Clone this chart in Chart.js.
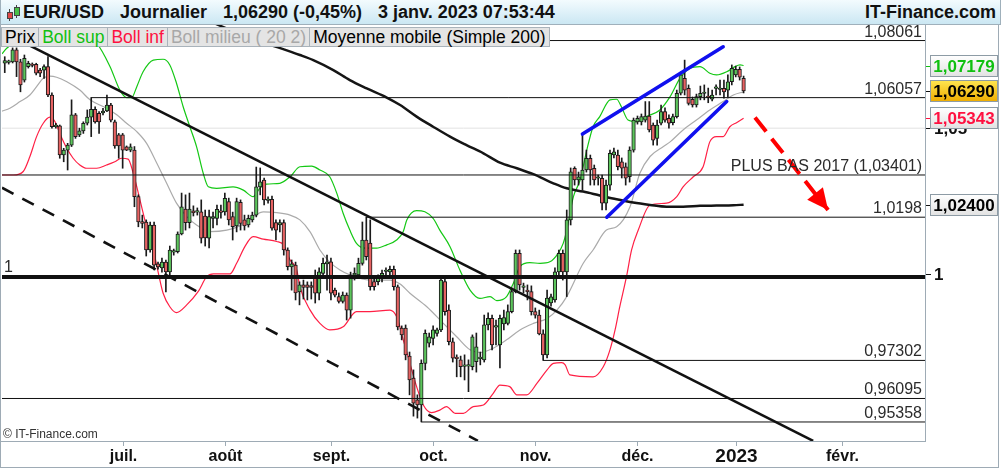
<!DOCTYPE html>
<html><head><meta charset="utf-8">
<script src="https://cdn.jsdelivr.net/npm/chart.js@4.4.1/dist/chart.umd.min.js"></script>
<style>
html,body{margin:0;padding:0;background:#fff;}
#wrap{position:relative;width:1001px;height:469px;overflow:hidden;font-family:"Liberation Sans",Arial,sans-serif;background:#fff;}
#c{position:absolute;left:0;top:0;}
#hdr{position:absolute;left:0;top:0;width:1001px;height:25px;background:linear-gradient(#f3fbfe,#cbe7f3);border-bottom:1px solid #9fb0bb;border-left:1px solid #9fb0bb;border-right:1px solid #9fb0bb;box-sizing:border-box;}
.ht{position:absolute;top:0;line-height:25px;font-weight:bold;font-size:18px;color:#111;white-space:nowrap;}
.ico{position:absolute;left:5px;top:5px;width:16px;height:16px;}
.ico .w{position:absolute;width:1px;background:#444;}
.ico .b{position:absolute;width:4px;border:1px solid #444;}
#leg{position:absolute;left:1px;top:27px;height:20px;display:flex;background:#e4e4e4;border:1px solid #a9b3bb;box-sizing:border-box;}
#leg span{display:block;padding:0 3px;line-height:19px;font-size:17.5px;border-right:1px solid #a9b3bb;white-space:nowrap;}
#leg span:last-child{border-right:none;}
</style></head>
<body><div id="wrap">
<canvas id="c" width="1001" height="469"></canvas>
<div id="hdr">
  <div class="ico">
    <div class="w" style="left:3px;top:4px;height:12px"></div><div class="b" style="left:1px;top:7px;height:5px;background:#e04848"></div>
    <div class="w" style="left:10px;top:0;height:13px"></div><div class="b" style="left:8px;top:2px;height:7px;background:#48c048"></div>
  </div>
  <span class="ht" style="left:22px">EUR/USD</span>
  <span class="ht" style="left:119px">Journalier</span>
  <span class="ht" style="left:222px">1,06290 (-0,45%)</span>
  <span class="ht" style="left:377px">3 janv. 2023 07:53:44</span>
  <span class="ht" style="right:4px">IT-Finance.com</span>
</div>
<div id="leg"><span style="color:#000">Prix</span><span style="color:#10c010">Boll sup</span><span style="color:#ff1040">Boll inf</span><span style="color:#a8a8a8">Boll milieu ( 20 2)</span><span style="color:#000">Moyenne mobile (Simple 200)</span></div>
</div>
<script>
// ---- candle data (daily, index 0..188; month ticks below) ----
const candleOpen = [1.0726,1.0729,1.0731,1.0773,1.0731,1.0667,1.0714,1.0723,1.0722,1.0702,
1.0702,1.0714,1.0615,1.0505,1.0508,1.0408,1.0425,1.0442,1.0546,1.0477,
1.0491,1.0517,1.0538,1.0565,1.0551,1.0553,1.0560,1.0580,1.0522,1.0477,
1.0477,1.0436,1.0425,1.0425,1.0267,1.0183,1.0182,1.0089,1.0172,1.0043,
1.0030,1.0049,1.0017,1.0082,1.0083,1.0142,1.0225,1.0180,1.0219,1.0215,
1.0216,1.0202,1.0128,1.0194,1.0194,1.0216,1.0216,1.0250,1.0200,1.0169,
1.0248,1.0189,1.0172,1.0189,1.0205,1.0300,1.0323,1.0254,1.0258,1.0180,
1.0172,1.0180,1.0089,1.0033,1.0039,0.9951,0.9974,0.9974,0.9972,1.0001,
0.9947,1.0012,1.0043,1.0050,0.9957,0.9936,0.9920,0.9941,0.9892,1.0007,
1.0007,1.0045,1.0122,1.0112,0.9985,0.9985,0.9996,1.0018,1.0017,1.0025,
0.9968,0.9834,0.9834,0.9744,0.9674,0.9605,0.9589,0.9721,0.9785,0.9801,
0.9817,0.9828,0.9985,0.9892,0.9790,0.9738,0.9732,0.9711,0.9712,0.9710,
0.9726,0.9736,0.9732,0.9844,0.9865,0.9837,0.9780,0.9847,0.9849,0.9887,
0.9952,1.0078,0.9966,0.9954,0.9952,0.9887,0.9876,0.9815,0.9748,0.9915,
0.9925,1.0017,1.0078,1.0017,1.0189,1.0363,1.0323,1.0323,1.0357,1.0397,
1.0363,1.0329,1.0329,1.0245,1.0306,1.0408,1.0408,1.0385,1.0368,1.0334,
1.0425,1.0522,1.0522,1.0528,1.0542,1.0511,1.0465,1.0517,1.0557,1.0534,
1.0519,1.0540,1.0621,1.0673,1.0638,1.0600,1.0580,1.0609,1.0620,1.0607,
1.0600,1.0638,1.0634,1.0638,1.0632,1.0661,1.0685,1.0705,1.0673];
const candleHigh = [1.0749,1.0737,1.0780,1.0780,1.0740,1.0755,1.0733,1.0727,1.0726,1.0708,
1.0720,1.0749,1.0622,1.0517,1.0511,1.0431,1.0448,1.0598,1.0551,1.0500,
1.0522,1.0563,1.0606,1.0574,1.0557,1.0569,1.0615,1.0586,1.0528,1.0482,
1.0482,1.0439,1.0446,1.0437,1.0273,1.0205,1.0189,1.0182,1.0182,1.0049,
1.0062,1.0056,1.0102,1.0092,1.0149,1.0279,1.0273,1.0279,1.0236,1.0229,
1.0256,1.0222,1.0222,1.0215,1.0239,1.0239,1.0279,1.0262,1.0215,1.0262,
1.0256,1.0205,1.0205,1.0215,1.0367,1.0364,1.0330,1.0266,1.0269,1.0189,
1.0189,1.0189,1.0096,1.0056,1.0049,0.9984,0.9990,0.9984,0.9984,1.0023,
1.0030,1.0062,1.0072,1.0062,0.9964,0.9948,0.9951,0.9948,1.0016,1.0030,
1.0062,1.0182,1.0198,1.0189,0.9997,1.0007,1.0023,1.0030,1.0036,1.0036,
0.9974,0.9841,0.9844,0.9757,0.9700,0.9621,0.9732,0.9828,0.9818,0.9841,
0.9834,1.0001,0.9997,0.9909,0.9802,0.9748,0.9744,0.9748,0.9732,0.9812,
0.9818,0.9757,0.9876,0.9883,0.9876,0.9860,0.9876,0.9892,0.9909,0.9964,
1.0089,1.0089,0.9980,0.9974,0.9971,0.9899,0.9892,0.9828,0.9957,0.9944,
1.0030,1.0089,1.0089,1.0222,1.0364,1.0368,1.0350,1.0480,1.0425,1.0408,
1.0374,1.0340,1.0340,1.0323,1.0425,1.0432,1.0425,1.0398,1.0381,1.0436,
1.0535,1.0542,1.0549,1.0592,1.0592,1.0518,1.0528,1.0580,1.0570,1.0546,
1.0549,1.0632,1.0695,1.0737,1.0650,1.0608,1.0618,1.0646,1.0650,1.0639,
1.0632,1.0650,1.0667,1.0667,1.0685,1.0720,1.0716,1.0713,1.0681];
const candleLow = [1.0693,1.0723,1.0727,1.0679,1.0626,1.0660,1.0709,1.0713,1.0685,1.0679,
1.0673,1.0609,1.0500,1.0500,1.0397,1.0385,1.0357,1.0437,1.0465,1.0471,
1.0482,1.0511,1.0471,1.0517,1.0482,1.0546,1.0557,1.0522,1.0431,1.0397,
1.0363,1.0423,1.0419,1.0233,1.0166,1.0162,1.0069,1.0082,1.0023,1.0026,
1.0016,0.9951,1.0007,1.0072,1.0079,1.0139,1.0155,1.0162,1.0202,1.0205,
1.0112,1.0102,1.0096,1.0162,1.0172,1.0195,1.0205,1.0172,1.0122,1.0149,
1.0155,1.0155,1.0165,1.0182,1.0199,1.0273,1.0239,1.0245,1.0155,1.0122,
1.0149,1.0072,1.0023,0.9957,0.9925,0.9909,0.9928,0.9925,0.9928,0.9915,
0.9925,1.0000,0.9957,0.9925,0.9935,0.9915,0.9915,0.9860,0.9866,0.9990,
1.0000,1.0039,1.0056,0.9957,0.9957,0.9974,0.9984,1.0007,1.0007,0.9957,
0.9828,0.9796,0.9732,0.9621,0.9554,0.9548,0.9536,0.9700,0.9773,0.9780,
0.9808,0.9822,0.9876,0.9780,0.9725,0.9678,0.9678,0.9668,0.9631,0.9700,
0.9693,0.9716,0.9725,0.9828,0.9764,0.9780,0.9706,0.9828,0.9844,0.9883,
0.9948,0.9957,0.9948,0.9925,0.9876,0.9866,0.9812,0.9730,0.9738,0.9905,
0.9918,1.0007,0.9990,0.9936,1.0172,1.0306,1.0306,1.0289,1.0350,1.0306,
1.0306,1.0306,1.0222,1.0222,1.0289,1.0398,1.0357,1.0330,1.0306,1.0316,
1.0418,1.0514,1.0511,1.0521,1.0487,1.0442,1.0442,1.0511,1.0521,1.0500,
1.0511,1.0535,1.0615,1.0615,1.0580,1.0573,1.0573,1.0598,1.0598,1.0588,
1.0594,1.0615,1.0615,1.0604,1.0608,1.0650,1.0678,1.0667,1.0622];
const candleClose = [1.0735,1.0731,1.0773,1.0731,1.0650,1.0743,1.0726,1.0718,1.0691,1.0691,
1.0714,1.0615,1.0505,1.0511,1.0408,1.0425,1.0442,1.0546,1.0471,1.0491,
1.0517,1.0538,1.0565,1.0522,1.0522,1.0559,1.0580,1.0528,1.0439,1.0439,
1.0425,1.0425,1.0436,1.0267,1.0182,1.0177,1.0089,1.0172,1.0039,1.0033,
1.0049,1.0017,1.0089,1.0083,1.0142,1.0233,1.0180,1.0225,1.0213,1.0217,
1.0128,1.0129,1.0200,1.0200,1.0224,1.0214,1.0261,1.0189,1.0166,1.0250,
1.0177,1.0169,1.0194,1.0205,1.0300,1.0317,1.0256,1.0259,1.0161,1.0155,
1.0180,1.0089,1.0034,1.0043,0.9948,0.9974,0.9966,0.9966,0.9966,0.9947,
1.0017,1.0045,1.0050,0.9947,0.9941,0.9920,0.9941,0.9892,1.0007,1.0012,
1.0045,1.0122,1.0067,0.9968,0.9968,0.9996,1.0012,1.0020,1.0025,0.9968,
0.9838,0.9812,0.9748,0.9668,0.9595,0.9589,0.9721,0.9817,0.9806,0.9828,
0.9828,0.9990,0.9887,0.9790,0.9737,0.9736,0.9710,0.9713,0.9714,0.9806,
0.9774,0.9738,0.9844,0.9865,0.9780,0.9839,0.9865,0.9868,0.9887,0.9952,
1.0078,0.9974,0.9967,0.9952,0.9887,0.9876,0.9815,0.9748,0.9931,0.9935,
1.0017,1.0078,1.0017,1.0189,1.0351,1.0323,1.0334,1.0357,1.0397,1.0357,
1.0323,1.0330,1.0245,1.0306,1.0414,1.0419,1.0368,1.0363,1.0329,1.0425,
1.0528,1.0534,1.0540,1.0542,1.0494,1.0459,1.0511,1.0557,1.0528,1.0517,
1.0540,1.0621,1.0685,1.0632,1.0586,1.0580,1.0609,1.0621,1.0621,1.0606,
1.0615,1.0639,1.0635,1.0626,1.0661,1.0708,1.0705,1.0677,1.0629];

// ---- indicators (x = candle index) ----
const bollSupX = [-0.7,0.5,3.9,11.5,19.1,23.4,26.8,29.3,31.0,32.3,33.6,35.2,37.8,40.3,42.0,43.7,45.4,47.1,48.8,50.5,51.8,53.9,58.1,60.7,63.2,64.9,66.6,70.0,72.6,75.1,78.1,80.2,82.7,84.5,86.1,87.8,89.5,91.7,94.6,97.2,99.7,101.4,102.3,104.8,106.9,109.0,110.7,113.3,115.8,118.4,120.9,123.5,125.2,127.7,129.4,131.1,133.6,136.2,138.7,140.8,142.1,143.0,144.7,146.4,148.1,149.7,151.4,154.0,155.7,156.9,158.6,160.8,163.3,166.7,169.3,171.8,174.3,176.9,179.4,181.1,183.7,185.8,187.1,188];
const bollSupY = [1.0759,1.0779,1.0808,1.0822,1.0822,1.0796,1.0714,1.0632,1.0606,1.0606,1.0644,1.0696,1.0737,1.0740,1.0720,1.0656,1.0574,1.0505,1.0437,1.0346,1.0300,1.0295,1.0300,1.0289,1.0267,1.0295,1.0309,1.0312,1.0334,1.0368,1.0370,1.0357,1.0334,1.0278,1.0211,1.0155,1.0111,1.0095,1.0095,1.0106,1.0122,1.0150,1.0189,1.0220,1.0216,1.0194,1.0155,1.0100,1.0023,0.9957,0.9930,0.9936,0.9923,0.9936,0.9979,1.0034,1.0047,1.0045,1.0050,1.0078,1.0111,1.0155,1.0267,1.0323,1.0425,1.0505,1.0540,1.0598,1.0600,1.0574,1.0528,1.0522,1.0540,1.0563,1.0609,1.0673,1.0708,1.0714,1.0691,1.0685,1.0696,1.0714,1.0720,1.0718];
const bollInfX = [-0.7,2.2,4.7,6.4,8.1,9.8,11.5,12.8,14.0,15.8,17.4,19.1,20.8,23.4,25.9,28.0,29.7,31.4,32.7,34.4,36.1,37.8,39.1,40.3,42.0,43.7,46.3,49.2,51.4,53.1,57.3,59.0,61.1,63.2,65.8,69.2,70.9,72.6,74.3,75.1,77.7,80.2,82.7,86.1,89.5,92.9,98.0,99.7,101.4,103.1,104.8,106.5,108.6,110.7,112.4,114.6,116.7,119.2,121.8,124.3,126.0,128.5,130.3,132.8,135.4,138.0,139.6,141.7,142.6,143.8,149.7,152.3,154.0,155.3,156.5,158.2,159.5,161.2,164.2,168.4,171.0,172.6,175.2,177.7,179.4,181.1,182.8,184.5,186.2,188];
const bollInfY = [1.0340,1.0340,1.0352,1.0403,1.0471,1.0517,1.0538,1.0522,1.0482,1.0431,1.0397,1.0374,1.0363,1.0363,1.0374,1.0385,1.0397,1.0394,1.0346,1.0256,1.0166,1.0089,1.0012,0.9947,0.9903,0.9884,0.9909,0.9952,1.0001,1.0010,1.0010,1.0045,1.0100,1.0133,1.0125,1.0117,1.0106,1.0056,1.0023,0.9968,0.9892,0.9849,0.9828,0.9838,0.9887,0.9887,0.9892,0.9871,0.9796,0.9721,0.9647,0.9589,0.9565,0.9573,0.9584,0.9563,0.9563,0.9584,0.9589,0.9626,0.9652,0.9647,0.9621,0.9621,0.9657,0.9700,0.9721,0.9723,0.9716,0.9684,0.9678,0.9710,0.9764,0.9828,0.9903,1.0001,1.0089,1.0155,1.0239,1.0245,1.0267,1.0300,1.0334,1.0368,1.0453,1.0471,1.0471,1.0505,1.0519,1.0534];
const bollMidX = [-0.7,1.3,3.9,6.4,8.1,9.8,11.5,13.2,15.8,19.1,21.7,25.9,28.5,31.0,33.6,36.1,38.7,41.2,43.7,46.3,48.8,52.2,56.5,59.8,63.2,65.8,69.2,72.6,75.1,77.7,80.2,82.7,85.3,87.8,92.9,98.0,100.6,103.1,107.4,111.6,115.0,118.4,120.9,124.3,127.7,131.1,134.5,138.0,140.5,143.0,147.2,149.7,153.1,155.7,159.1,161.6,164.2,167.6,169.3,172.6,176.0,179.4,182.8,185.4,188];
const bollMidY = [1.0559,1.0569,1.0592,1.0615,1.0644,1.0673,1.0681,1.0677,1.0661,1.0632,1.0598,1.0569,1.0546,1.0517,1.0488,1.0448,1.0380,1.0312,1.0245,1.0200,1.0172,1.0150,1.0155,1.0169,1.0200,1.0216,1.0213,1.0205,1.0189,1.0149,1.0089,1.0049,1.0023,1.0007,0.9990,0.9990,0.9977,0.9947,0.9903,0.9849,0.9806,0.9764,0.9755,0.9769,0.9796,0.9828,0.9849,0.9865,0.9892,0.9936,1.0045,1.0089,1.0155,1.0166,1.0233,1.0346,1.0403,1.0437,1.0453,1.0494,1.0528,1.0563,1.0592,1.0615,1.0626];
const smaX = [45.0,57.3,64.1,75.1,78.5,83.6,87.8,92.1,97.2,100.6,104.8,109.0,113.3,117.5,121.8,126.0,130.3,134.5,139.6,143.0,147.2,151.4,155.7,159.9,164.2,168.4,172.6,176.9,181.1,185.4,188];
const smaY = [1.0920,1.0844,1.0808,1.0755,1.0737,1.0702,1.0667,1.0638,1.0606,1.0580,1.0540,1.0505,1.0471,1.0442,1.0414,1.0382,1.0363,1.0343,1.0312,1.0295,1.0284,1.0271,1.0258,1.0247,1.0239,1.0233,1.0233,1.0236,1.0237,1.0238,1.0240];

// ---- drawn analysis ----
const levelValues = [1.08061, 1.06057, 1.03401, 1.0198, 1, 0.97302, 0.96095, 0.95358];
const levelStart  = [2, 22, -0.7, 92, -0.7, 137, -0.7, 106];
const levelText   = ['1,08061','1,06057','PLUS BAS 2017 (1,03401)','1,0198','','0,97302','0,96095','0,95358'];
const gridValues  = [1.05];
const downTrendX = [3.87, 205.7], downTrendY = [1.0806, 0.9477];
const dashTrendX = [-0.7, 120.4], dashTrendY = [1.0297, 0.9477];
const blueUpX = [147.0, 182.8], blueUpY = [1.0480, 1.0784];
const blueLowX = [153.2, 183.7], blueLowY = [1.0198, 1.0592];
const arrowX = [190.9, 209.5], arrowY = [1.0537, 1.0222];

// ---- axis texts ----
const tickIdx  = [30, 56, 83, 109, 135, 161, 186, 213];
const tickText = ['juil.','août','sept.','oct.','nov.','déc.','2023','févr.'];
const markValues = [1.07179, 1.06290, 1.05343, 1.02400];
const markText   = ['1,07179','1,06290','1,05343','1,02400'];
const axisValues = [1.05, 1];
const axisText   = ['1,05', '1'];

const X_MIN = -0.7, X_MAX = 234.16;
const FONT = '"Liberation Sans", Arial, sans-serif';

const idx = candleOpen.map((_, i) => i);
const pts = (xs, ys) => xs.map((x, k) => ({x, y: ys[k]}));
const lineDs = (data, color, width, order, extra) => Object.assign({
  type: 'line', data, borderColor: color, borderWidth: width, pointRadius: 0,
  fill: false, order, tension: 0, spanGaps: true
}, extra || {});

const datasets = [];
gridValues.forEach(v => datasets.push(lineDs([{x: X_MIN, y: v}, {x: X_MAX, y: v}], '#e2e2e2', 1, 20)));
datasets.push(lineDs(pts(bollSupX, bollSupY), '#14c814', 1.2, 12, {cubicInterpolationMode: 'monotone'}));
datasets.push(lineDs(pts(bollInfX, bollInfY), '#ff2045', 1.2, 12, {cubicInterpolationMode: 'monotone'}));
datasets.push(lineDs(pts(bollMidX, bollMidY), '#ababab', 1.2, 12, {cubicInterpolationMode: 'monotone'}));
datasets.push(lineDs(pts(smaX, smaY), '#151515', 2.5, 11, {cubicInterpolationMode: 'monotone'}));
datasets.push({
  type: 'bar', data: idx.map(i => ({x: i, y: [candleLow[i], candleHigh[i]]})),
  backgroundColor: '#1a1a1a', barThickness: 1, grouped: false, order: 6
});
datasets.push({
  type: 'bar', data: idx.map(i => ({x: i, y: [candleOpen[i], candleClose[i]]})),
  backgroundColor: idx.map(i => candleClose[i] >= candleOpen[i] ? '#5cc55c' : '#e66262'),
  borderColor: '#1a1a1a', borderWidth: 1, borderSkipped: false,
  barThickness: 3.6, minBarLength: 1.5, grouped: false, order: 5
});
levelValues.forEach((v, k) => datasets.push(lineDs([{x: levelStart[k], y: v}, {x: X_MAX, y: v}], '#111', v === 1 ? 4 : 1, 3)));
datasets.push(lineDs(pts(downTrendX, downTrendY), '#111', 2.6, 2));
datasets.push(lineDs(pts(dashTrendX, dashTrendY), '#111', 2.6, 2, {borderDash: [13, 10], borderCapStyle: 'butt'}));
datasets.push(lineDs(pts(blueUpX, blueUpY), '#1010ee', 3.6, 1, {borderCapStyle: 'round'}));
datasets.push(lineDs(pts(blueLowX, blueLowY), '#1010ee', 3.6, 1, {borderCapStyle: 'round'}));
datasets.push(lineDs(pts(arrowX, arrowY), '#ff0000', 4, 1, {borderDash: [18, 9]}));

const deco = {
  id: 'deco',
  afterDatasetsDraw(chart) {
    const {ctx, scales: {x, y}} = chart;
    const x0 = x.getPixelForValue(arrowX[0]), y0 = y.getPixelForValue(arrowY[0]);
    const x1 = x.getPixelForValue(arrowX[1]), y1 = y.getPixelForValue(arrowY[1]);
    const L = Math.hypot(x1 - x0, y1 - y0), ux = (x1 - x0) / L, uy = (y1 - y0) / L;
    const bx = x1 - ux * 21, by = y1 - uy * 21;
    ctx.save();
    ctx.fillStyle = '#ff0000';
    ctx.beginPath();
    ctx.moveTo(x1, y1);
    ctx.lineTo(bx - uy * 10, by + ux * 10);
    ctx.lineTo(bx + uy * 10, by - ux * 10);
    ctx.closePath(); ctx.fill();
    ctx.restore();
  },
  afterDraw(chart) {
    const {ctx, chartArea: a, scales: {x, y}} = chart;
    ctx.save();
    const seg = (x1, y1, x2, y2) => { ctx.beginPath(); ctx.moveTo(x1, y1); ctx.lineTo(x2, y2); ctx.stroke(); };
    ctx.fillStyle = '#2b2b2b'; ctx.font = '16px ' + FONT; ctx.textAlign = 'right'; ctx.textBaseline = 'alphabetic';
    levelValues.forEach((v, k) => { if (levelText[k]) ctx.fillText(levelText[k], a.right - 3, Math.round(y.getPixelForValue(v)) - 4); });
    ctx.textAlign = 'left';
    ctx.fillText('1', a.left + 2, Math.round(y.getPixelForValue(1)) - 5);
    ctx.font = '12px ' + FONT; ctx.fillStyle = '#333';
    ctx.fillText('\u00A9 IT-Finance.com', a.left + 1, a.bottom - 3);
    ctx.strokeStyle = '#9eabb5'; ctx.lineWidth = 1;
    seg(a.right + 0.5, a.top, a.right + 0.5, a.bottom + 0.5);
    seg(0, a.bottom + 0.5, a.right + 1, a.bottom + 0.5);
    ctx.strokeRect(0.5, 0.5, 998, 467);
    ctx.fillStyle = '#111'; ctx.textAlign = 'center'; ctx.textBaseline = 'middle';
    tickIdx.forEach((t, k) => {
      const px = Math.round(x.getPixelForValue(t)) + 0.5;
      ctx.strokeStyle = '#9eabb5'; seg(px, a.bottom, px, a.bottom + 5);
      ctx.font = (tickText[k] === '2023' ? 'bold 19px ' : 'bold 16px ') + FONT;
      ctx.fillText(tickText[k], px, 457);
    });
    ctx.textAlign = 'left'; ctx.font = 'bold 17px ' + FONT; ctx.fillStyle = '#111';
    axisValues.forEach((v, k) => {
      const py = Math.round(y.getPixelForValue(v)) + 0.5;
      const ty = v === 1 ? py - 3 : py;
      ctx.strokeStyle = '#111'; seg(a.right + 1, ty, a.right + 6, ty);
      ctx.fillText(axisText[k], a.right + 9, ty + 1);
    });
    const txtCol = ['#10c010', '#000', '#ff1040', '#000'];
    const tickCol = ['#10c010', '#111', '#ff1040', '#111'];
    markValues.forEach((v, k) => {
      const py = Math.round(y.getPixelForValue(v));
      ctx.strokeStyle = tickCol[k]; seg(a.right + 1, py + 0.5, a.right + 6, py + 0.5);
      const bx = a.right + 5.5, bw = 67, bh = 21, by = py - 10.5;
      const g = ctx.createLinearGradient(0, by, 0, by + bh);
      if (k === 1) { g.addColorStop(0, '#ffe650'); g.addColorStop(1, '#eeac00'); }
      else { g.addColorStop(0, '#ffffff'); g.addColorStop(1, '#e2e2e2'); }
      ctx.fillStyle = g; ctx.fillRect(bx, by, bw, bh);
      ctx.strokeStyle = '#8d9ba5'; ctx.strokeRect(bx, by, bw, bh);
      ctx.fillStyle = txtCol[k]; ctx.font = 'bold 17px ' + FONT; ctx.textAlign = 'center';
      ctx.fillText(markText[k], bx + bw / 2, py + 1);
    });
    ctx.restore();
  }
};

new Chart(document.getElementById('c'), {
  type: 'bar',
  data: {datasets},
  options: {
    responsive: false, animation: false, devicePixelRatio: 1, events: [],
    layout: {padding: {left: 2, top: 25, right: 76, bottom: 28}},
    plugins: {legend: {display: false}, tooltip: {enabled: false}},
    scales: {
      x: {type: 'linear', min: X_MIN, max: X_MAX, display: false, bounds: 'data', offset: false},
      y: {type: 'logarithmic', min: 0.94765, max: 1.08613, display: false, bounds: 'data'}
    }
  },
  plugins: [deco]
});
</script>
</body></html>
